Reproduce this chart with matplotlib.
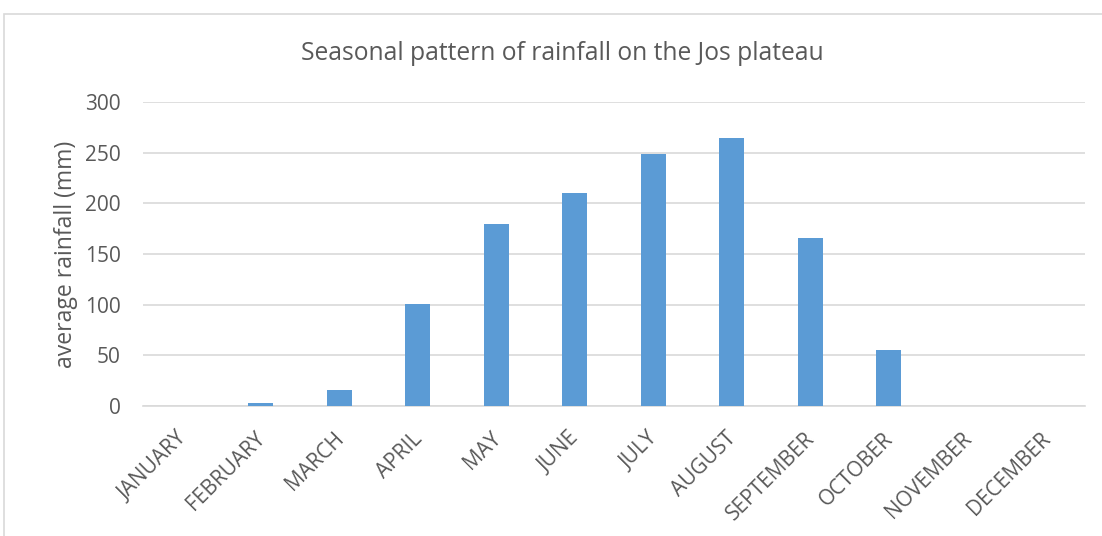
import matplotlib.pyplot as plt
from matplotlib.patches import Rectangle
from matplotlib.transforms import ScaledTranslation

months = ['JANUARY', 'FEBRUARY', 'MARCH', 'APRIL', 'MAY', 'JUNE',
          'JULY', 'AUGUST', 'SEPTEMBER', 'OCTOBER', 'NOVEMBER', 'DECEMBER']
rainfall = [0, 3, 16, 101, 180, 210, 249, 264, 166, 55, 0, 0]
yticks = [0, 50, 100, 150, 200, 250, 300]

text_color = '#595959'
plt.rcParams['font.family'] = ['Open Sans', 'DejaVu Sans']

fig = plt.figure(figsize=(11.02, 5.36), dpi=100)
ax = fig.add_axes([143 / 1102, 1 - 406 / 536, 942 / 1102, 304 / 536])

# chart area border (cut off at right and bottom like the screenshot)
fig.patches.append(Rectangle((4 / 1102, -0.1), 1.2, 1 - 14 / 536 + 0.1,
                             transform=fig.transFigure, fill=False,
                             edgecolor='#d9d9d9', linewidth=1.2))

x = list(range(len(months)))
ax.bar(x, rainfall, width=0.32, color='#5b9bd5', zorder=3)

ax.set_xlim(-0.5, len(months) - 0.5)
ax.set_ylim(0, 300)
ax.set_yticks(yticks)
ax.set_yticklabels([str(v) for v in yticks])
ax.grid(axis='y', color='#d9d9d9', linewidth=1.2, zorder=0)
for s in ['top', 'right', 'left']:
    ax.spines[s].set_visible(False)
ax.spines['bottom'].set_color('#d9d9d9')
ax.spines['bottom'].set_linewidth(1.2)
ax.tick_params(axis='y', length=0, labelsize=15, colors=text_color, pad=16)
ax.set_xticks(x)
ax.set_xticklabels(months, rotation=45, ha='right', rotation_mode='anchor')
ax.tick_params(axis='x', length=0, labelsize=15, colors=text_color, pad=16)
# nudge the month labels a bit left so the end sits on the tick
shift = ScaledTranslation(-6 / 100, 0, fig.dpi_scale_trans)
for lab in ax.get_xticklabels():
    lab.set_transform(lab.get_transform() + shift)

ax.set_ylabel('average rainfall (mm)', fontsize=16.6, color=text_color, labelpad=5)
fig.text(562 / 1102, 1 - 54 / 536, 'Seasonal pattern of rainfall on the Jos plateau',
         ha='center', va='center', fontsize=17.7, color=text_color)

fig.savefig('out.png', dpi=100)
